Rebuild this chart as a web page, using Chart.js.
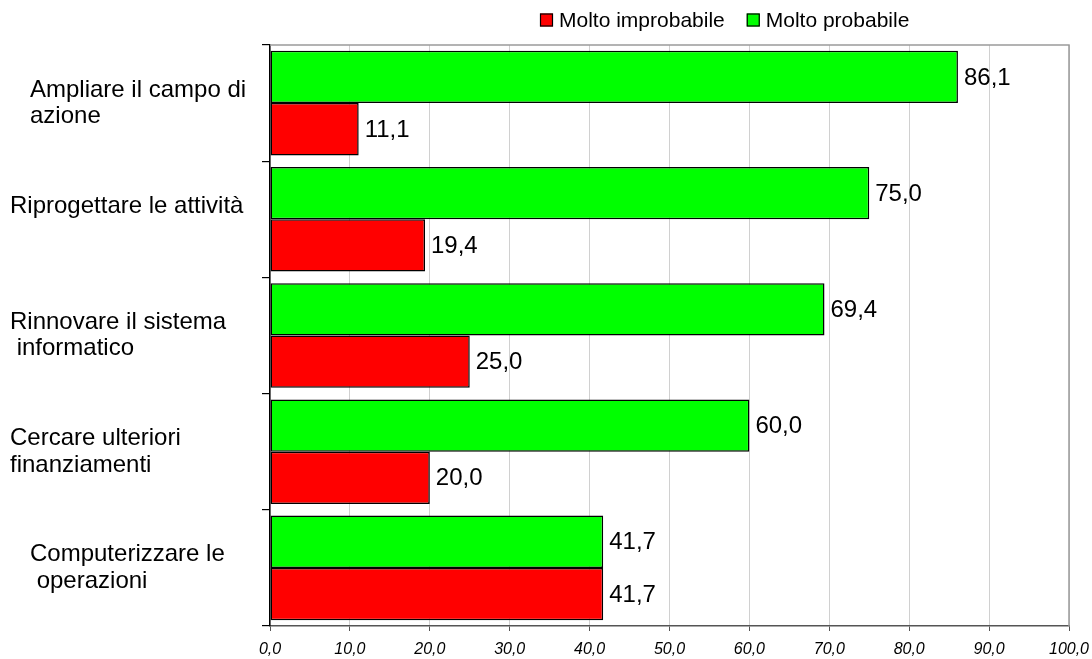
<!DOCTYPE html>
<html>
<head>
<meta charset="utf-8">
<script src="https://cdn.jsdelivr.net/npm/chart.js@4/dist/chart.umd.min.js"></script>
<style>
  html, body { margin: 0; padding: 0; background: #fff; }
  #wrap { width: 1092px; height: 659px; position: relative; }
</style>
</head>
<body>
<div id="wrap"><canvas id="chart"></canvas></div>
<script>
// Category labels (two lines each; leading spaces keep the original indents)
const categories = [
  ['   Ampliare il campo di', '   azione'],
  ['Riprogettare le attività', ''],
  ['Rinnovare il sistema', ' informatico'],
  ['Cercare ulteriori', 'finanziamenti'],
  ['   Computerizzare le', '    operazioni']
];

const seriesNames = ['Molto probabile', 'Molto improbabile'];
const moltoProbabile   = [86.1, 75.0, 69.4, 60.0, 41.7];
const moltoImprobabile = [11.1, 19.4, 25.0, 20.0, 41.7];

const xTickLabels = ['0,0', '10,0', '20,0', '30,0', '40,0', '50,0', '60,0', '70,0', '80,0', '90,0', '100,0'];

const FONT = '"Liberation Sans", Arial, Helvetica, sans-serif';
const fmt = v => v.toFixed(1).replace('.', ',');

// Gray frame along the top and right edges of the plot area
const plotFrame = {
  id: 'plotFrame',
  beforeDatasetsDraw(chart) {
    const { ctx, chartArea: a } = chart;
    ctx.save();
    ctx.strokeStyle = '#9a9a9a';
    ctx.lineWidth = 1.5;
    ctx.beginPath();
    ctx.moveTo(a.left, a.top);
    ctx.lineTo(a.right, a.top);
    ctx.lineTo(a.right, a.bottom);
    ctx.stroke();
    ctx.restore();
  }
};

// Value labels at the end of each bar
const valueLabels = {
  id: 'valueLabels',
  afterDatasetsDraw(chart) {
    const { ctx } = chart;
    ctx.save();
    ctx.font = '24px ' + FONT;
    ctx.fillStyle = '#000';
    ctx.textAlign = 'left';
    ctx.textBaseline = 'middle';
    chart.data.datasets.forEach((ds, i) => {
      chart.getDatasetMeta(i).data.forEach((bar, j) => {
        ctx.fillText(fmt(ds.data[j]), bar.x + 6, bar.y + 1);
      });
    });
    ctx.restore();
  }
};

// Legend row above the plot (red series listed first)
const topLegend = {
  id: 'topLegend',
  afterDraw(chart) {
    const { ctx } = chart;
    ctx.save();
    ctx.font = '21px ' + FONT;
    ctx.textAlign = 'left';
    ctx.textBaseline = 'middle';
    let x = 540;
    const y = 20;
    [...chart.data.datasets].reverse().forEach(ds => {
      ctx.fillStyle = ds.backgroundColor;
      ctx.fillRect(x, y - 6.5, 13, 13);
      ctx.strokeStyle = '#000';
      ctx.lineWidth = 1.2;
      ctx.strokeRect(x + 0.5, y - 6, 12, 12);
      ctx.fillStyle = '#000';
      ctx.fillText(ds.label, x + 19, y + 1);
      x += 19 + ctx.measureText(ds.label).width + 22;
    });
    ctx.restore();
  }
};

new Chart(document.getElementById('chart'), {
  type: 'bar',
  data: {
    labels: categories,
    datasets: [
      {
        label: seriesNames[0],
        data: moltoProbabile,
        backgroundColor: '#00ff00',
        borderColor: '#000',
        borderWidth: 1.5,
        borderSkipped: false
      },
      {
        label: seriesNames[1],
        data: moltoImprobabile,
        backgroundColor: '#ff0000',
        borderColor: '#000',
        borderWidth: 1.5,
        borderSkipped: false
      }
    ]
  },
  options: {
    indexAxis: 'y',
    responsive: true,
    maintainAspectRatio: false,
    animation: false,
    datasets: { bar: { categoryPercentage: 0.9, barPercentage: 1.0 } },
    layout: { padding: { top: 45, left: 10, right: 23, bottom: 0 } },
    plugins: {
      legend: { display: false },
      tooltip: { enabled: false }
    },
    scales: {
      x: {
        min: 0,
        max: 100,
        grid: {
          color: '#d0d0d0',
          lineWidth: 1,
          tickLength: 5,
          tickColor: '#555'
        },
        border: { color: '#555', width: 1.5 },
        ticks: {
          stepSize: 10,
          autoSkip: false,
          maxRotation: 0,
          padding: 9,
          color: '#000',
          font: { family: FONT, size: 16, style: 'italic' },
          callback: (v, i) => xTickLabels[i]
        },
        afterFit(scale) {
          scale.height = 33;
          scale.paddingLeft = 0;
          scale.paddingRight = 0;
        }
      },
      y: {
        grid: {
          drawOnChartArea: false,
          tickLength: 8,
          tickColor: '#000',
          lineWidth: 1.2
        },
        border: { color: '#000', width: 1.5 },
        ticks: {
          autoSkip: false,
          crossAlign: 'far',
          color: '#000',
          font: { family: FONT, size: 24, lineHeight: 1.1 }
        },
        afterFit(scale) {
          scale.width = 260;
          scale.paddingTop = 0;
          scale.paddingBottom = 0;
        }
      }
    }
  },
  plugins: [plotFrame, valueLabels, topLegend]
});
</script>
</body>
</html>
